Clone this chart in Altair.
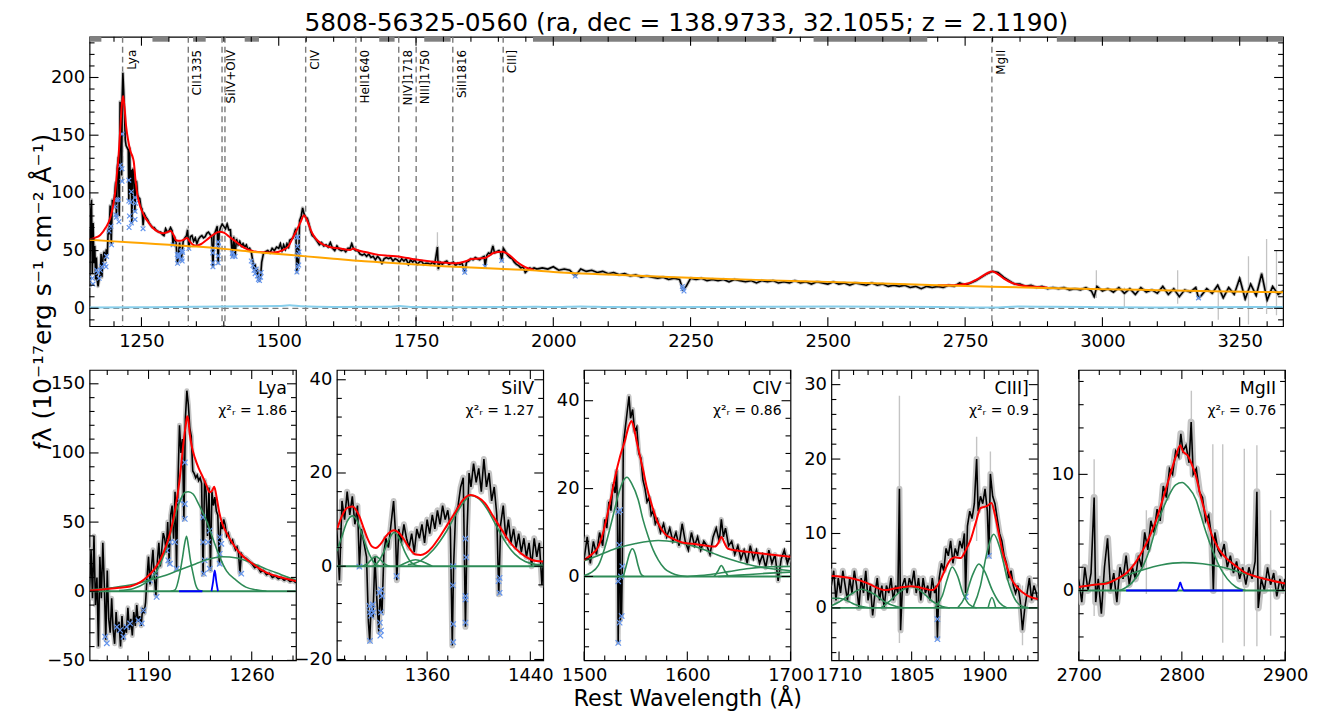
import altair as alt
import pandas as pd

FONT = "DejaVu Sans"
GRAY = "#c4c4c4"
RED = "#ff0000"
ORANGE = "#ffa500"
SKY = "#87ceeb"
GREEN = "#2e8b57"
BLUE = "#0000ff"
XBLUE = "#6495ed"
DASH = "#7a7a7a"

TITLE = "5808-56325-0560 (ra, dec = 138.9733, 32.1055; z = 2.1190)"
XLABEL = "Rest Wavelength (\u00c5)"
YLABEL = "\U0001d453\u03bb  (10\u207b\u00b9\u2077erg  s\u207b\u00b9  cm\u207b\u00b2  \u00c5\u207b\u00b9)"

# ---------------- top panel data ----------------
LINE_NAMES = ["Lya", "CII1335", "SiIV+OIV", "", "CIV", "HeII1640", "NIV]1718", "NIII]1750", "SiII1816", "CIII]", "MgII"]
LINE_WAVES = [1215.67, 1335.30, 1396.76, 1402.06, 1549.06, 1640.42, 1718.55, 1750.26, 1816.98, 1908.73, 2798.75]

CONT_WINDOWS = [(1155.5, 1177), (1270, 1300), (1344, 1367), (1438, 1464), (1683, 1711),
                (1765, 1813), (1963, 2406), (2474, 2681), (2917, 3329)]

TOP_BLACK = [
    (1155, 69), (1156, 19), (1157.5, 84), (1159, 94), (1160.5, 30), (1162, 74), (1163.5, 39), (1165, 54),
    (1166.5, 25), (1168, 44), (1169.5, 24), (1171, 19), (1173, 26), (1175, 29), (1176.5, 47), (1178, 27),
    (1180, 44), (1182, 49), (1184, 41), (1186, 51), (1188, 47), (1189.5, 69), (1191, 64), (1193, 89),
    (1195, 56), (1197, 94), (1199, 89), (1201, 97), (1203, 109), (1204.5, 79), (1206, 121), (1208, 131),
    (1209.5, 80), (1211, 179), (1212.5, 159), (1214, 115), (1215, 184), (1216.2, 204), (1217.5, 190),
    (1219, 171), (1220.5, 146), (1222, 141), (1224, 139), (1226, 137), (1227, 94), (1228.5, 139),
    (1230, 99), (1231.5, 120), (1232.5, 74), (1234, 121), (1236, 117), (1238, 84), (1239.5, 108),
    (1241, 110), (1243, 98), (1245, 96), (1247, 95), (1249, 88), (1251, 86), (1253, 72), (1255, 82),
    (1258, 79), (1261, 77), (1264, 74), (1267, 72), (1270, 70), (1273, 70), (1276, 68), (1279, 67),
    (1282, 66), (1285, 66), (1288, 64),
    (1291, 63), (1294, 69), (1297, 66), (1300, 67), (1303, 70), (1306, 67), (1307.5, 55), (1310, 62),
    (1313, 57), (1315.5, 39), (1317, 45), (1319.5, 57), (1322.5, 41), (1324, 49), (1326, 58), (1329, 61),
    (1332, 63), (1334, 68), (1336.3, 52), (1339, 62), (1342, 63), (1345, 58), (1348, 61), (1351, 56),
    (1354, 60), (1357, 62), (1360, 63), (1363, 61), (1366, 62), (1369, 65), (1372, 66), (1375, 64),
    (1378, 62), (1380.2, 36), (1382, 63), (1385, 67), (1388, 71), (1389.7, 39), (1391.5, 66), (1394, 70),
    (1397, 73), (1400, 71), (1403, 69), (1406, 73), (1409, 68), (1412, 68), (1415.5, 45), (1418, 62),
    (1420.5, 45), (1423, 60), (1426, 55), (1429, 58), (1432, 54), (1435, 56), (1438, 53), (1441, 55),
    (1444, 51), (1447, 52), (1450, 49),
    (1452, 43), (1455, 34), (1457, 38), (1459, 30), (1461, 34), (1463, 25), (1465, 24), (1467, 28),
    (1469, 40), (1472, 47), (1476, 49), (1480, 50), (1484, 48), (1488, 52), (1492, 50), (1496, 53), (1500, 52),
    (1503, 56), (1506, 50), (1509, 55), (1512, 51), (1515, 56), (1518, 53), (1520, 59), (1523, 60),
    (1526, 61), (1529, 66), (1531, 69), (1533, 31), (1534.5, 54), (1536, 37), (1538, 76), (1541, 80),
    (1543.5, 87), (1546, 82), (1549, 79), (1552, 78), (1555, 73), (1558, 67), (1561, 63), (1564, 62),
    (1567, 60), (1570, 58), (1574, 55), (1578, 57), (1582, 54), (1586, 55), (1590, 53), (1594, 57),
    (1598, 52), (1602, 50), (1606, 54), (1610, 51), (1614, 50), (1618, 51), (1622, 49), (1626, 52),
    (1630, 52), (1633, 56), (1636, 52), (1640, 50), (1644, 50), (1648, 47), (1652, 46), (1656, 47),
    (1660, 45), (1664, 47), (1668, 44), (1672, 45), (1676, 42), (1680, 45), (1684, 43), (1688, 39),
    (1692, 43), (1696, 44), (1700, 43),
    (1704, 44), (1708, 41), (1712, 43), (1716, 42), (1720, 40), (1724, 43), (1728, 41), (1732, 43),
    (1736, 38), (1740, 42), (1744, 40), (1748, 42), (1752, 38), (1756, 40), (1760, 41), (1764, 38),
    (1768, 39), (1772, 39), (1776, 38), (1780, 40), (1784, 38), (1789, 53), (1790.5, 34), (1794, 40),
    (1798, 38), (1802, 40), (1806, 41), (1810, 38), (1814, 39), (1818, 40), (1822, 37), (1826, 39),
    (1830, 38), (1834, 39), (1838.7, 31), (1842, 40), (1846, 41), (1850, 43), (1854, 42), (1858, 44),
    (1862, 43), (1866, 42), (1870, 44), (1874, 45), (1876, 37), (1879, 46), (1882, 48), (1886, 47),
    (1890, 54), (1893, 48), (1897, 49), (1901, 50), (1904, 48), (1906, 41), (1909, 52), (1913, 49),
    (1917, 46), (1921, 44), (1925, 43), (1929, 40), (1933, 38), (1937, 37), (1941, 35), (1945, 36),
    (1949, 31), (1953, 33), (1957, 35), (1961, 34), (1965, 35), (1970, 34),
    (1980, 35), (1990, 34), (2000, 36), (2010, 33), (2020, 34), (2030, 33), (2040, 28), (2050, 34),
    (2060, 32), (2070, 33), (2080, 31), (2090, 32), (2100, 30), (2110, 31), (2120, 29), (2130, 30),
    (2140, 28), (2150, 29), (2160, 27), (2170, 28), (2180, 27), (2190, 26), (2200, 27), (2210, 25),
    (2220, 26), (2230, 25), (2236, 16), (2242, 19), (2250, 26), (2260, 25), (2270, 26), (2280, 24),
    (2290, 25), (2300, 24), (2310, 25), (2320, 23), (2330, 25), (2340, 24), (2350, 23), (2360, 24),
    (2370, 22), (2380, 24), (2390, 23), (2400, 24), (2410, 22), (2420, 23), (2430, 22), (2440, 24),
    (2450, 22), (2460, 23), (2470, 21), (2480, 23), (2490, 22), (2500, 21), (2510, 23), (2520, 21),
    (2530, 22), (2540, 20), (2550, 22), (2560, 21), (2570, 20), (2580, 22), (2590, 20), (2600, 21),
    (2610, 19), (2620, 20), (2630, 19), (2640, 20), (2650, 18), (2660, 19), (2670, 17), (2680, 19),
    (2690, 18), (2700, 19), (2710, 18), (2720, 20), (2730, 19), (2740, 22), (2750, 20), (2760, 22),
    (2770, 24), (2780, 27), (2790, 30), (2800, 32), (2810, 31), (2820, 27), (2830, 24), (2840, 21),
    (2850, 21), (2860, 19), (2870, 20), (2880, 18), (2890, 19), (2900, 17), (2910, 18), (2920, 17),
    (2930, 18), (2940, 16), (2950, 17), (2960, 16), (2970, 18), (2980, 15), (2985, 10), (2990, 19),
    (3000, 15), (3010, 17), (3020, 14), (3030, 18), (3040, 13), (3050, 17), (3060, 12), (3070, 18),
    (3080, 14), (3090, 16), (3100, 13), (3110, 19), (3120, 12), (3130, 17), (3140, 10), (3150, 16),
    (3160, 14), (3170, 18), (3175, 9), (3180, 11), (3190, 17), (3200, 13), (3210, 20), (3220, 9),
    (3230, 18), (3240, 12), (3250, 26), (3260, 8), (3270, 21), (3280, 11), (3290, 30), (3300, 7),
    (3310, 19), (3320, 12), (3329, 15),
]

TOP_RED_LYA_CIII = [
    (1155, 59.5), (1165, 61), (1175, 63.5), (1185, 70), (1193, 78), (1198, 88), (1202, 100), (1205, 115),
    (1208, 130), (1211, 152), (1214, 175), (1216.5, 184), (1219, 175), (1222, 158), (1226, 145),
    (1230, 136), (1234, 131), (1236, 127), (1239, 112), (1242, 100), (1248, 88), (1255, 80), (1262, 75),
    (1270, 70), (1280, 66.5), (1290, 65), (1297, 66), (1303, 67), (1308, 64), (1313, 59), (1320, 58.5),
    (1327, 59.5), (1333, 61), (1338, 58), (1344, 55), (1350, 54.3), (1358, 55.5), (1368, 59),
    (1380, 63.5), (1392, 66.4), (1400, 65.5), (1410, 62), (1422, 57.8), (1435, 53), (1452, 49.7),
    (1470, 48.5), (1490, 48.3), (1500, 49), (1510, 51), (1518, 54), (1525, 60.6), (1533, 68),
    (1540, 75), (1546, 80.7), (1550, 78), (1555, 72), (1561, 65), (1567, 60.6), (1578, 56),
    (1591, 53.4), (1610, 52), (1630, 50.6), (1636, 51.8), (1642, 50.5), (1660, 48.5), (1682, 46.3),
    (1700, 45.5), (1718, 44.8), (1735, 43.5), (1750, 42.3), (1770, 41), (1790, 40), (1805, 39.5),
    (1818, 39), (1830, 39.5), (1842, 41), (1851, 42.8), (1862, 43), (1875, 43.5), (1883, 45.5),
    (1890, 47.7), (1899, 48.8), (1908, 49.1), (1916, 47.5), (1925, 44), (1933, 40.5), (1941.5, 37.7),
    (1953.7, 34.7), (1965, 33.3),
]
TOP_RED_MGII = [
    (2700, 20), (2720, 20), (2740, 20.5), (2755, 21.5), (2765, 23.5), (2775, 26), (2785, 29),
    (2793, 31), (2798.5, 32), (2805, 31), (2813, 28.5), (2823, 25), (2835, 22), (2850, 20),
    (2870, 18.8), (2900, 18),
]
TOP_CONT = [
    (1155.5, 59.5), (1200, 58), (1250, 56.5), (1300, 55), (1350, 53.5), (1400, 51.5), (1450, 49),
    (1500, 47), (1550, 45), (1600, 43), (1650, 41), (1700, 39.5), (1750, 38), (1800, 36.5),
    (1850, 35.3), (1900, 34.2), (1950, 33.3), (2000, 31.5), (2100, 29.2), (2200, 27.3), (2300, 25.6),
    (2400, 24.2), (2500, 22.9), (2600, 21.5), (2700, 20), (2800, 18.7), (2900, 17.6), (3000, 16.6),
    (3100, 15.7), (3200, 14.8), (3329, 13.9),
]
TOP_FE = [
    (1155.5, 0.8), (1250, 0.9), (1350, 1.3), (1450, 1.8), (1500, 2.0), (1520, 2.6), (1540, 1.7),
    (1600, 1.2), (1700, 1.4), (1720, 1.9), (1740, 1.2), (1800, 1.0), (1900, 1.1), (1970, 1.3),
    (2000, 1.1), (2050, 1.6), (2100, 1.1), (2200, 0.9), (2300, 1.2), (2400, 1.4), (2500, 1.5),
    (2600, 1.4), (2700, 1.2), (2800, 0.6), (2850, 1.6), (2900, 1.3), (3000, 1.0), (3100, 0.8),
    (3200, 1.0), (3329, 1.1),
]
TOP_MASKED = [
    (1160.6, 26), (1161.7, 21), (1168.5, 33), (1170.7, 31), (1173, 26), (1175.2, 33), (1177.5, 36),
    (1183.1, 38), (1185.4, 36), (1186.5, 45), (1191, 67), (1194.4, 71), (1195.5, 55), (1202.3, 88),
    (1203.4, 81), (1204.5, 79), (1204.5, 94), (1207.9, 94), (1209, 75), (1211.2, 124), (1214.6, 151),
    (1214.6, 121), (1214.6, 110), (1227, 111), (1227, 93), (1228.1, 80), (1227.5, 70), (1230.4, 92),
    (1231.5, 101), (1231.5, 74), (1238.3, 96), (1238.3, 84), (1239.4, 91), (1238.3, 77), (1252.9, 69),
    (1307.5, 55), (1315.7, 39), (1315.2, 46.5), (1316.5, 44.5), (1317.8, 46.8), (1318.3, 45),
    (1322.9, 49), (1324.2, 50), (1325, 48.6), (1323.4, 43), (1324.2, 41), (1336.3, 52), (1380.2, 52),
    (1379.9, 48), (1380.2, 39.5), (1380.2, 36), (1389.7, 57.5), (1390.2, 53.5), (1389.7, 45.5),
    (1389.7, 39.5), (1415.4, 47.5), (1416.2, 48.5), (1416.2, 45), (1420.5, 45), (1450, 41), (1453, 37),
    (1455, 33), (1457, 30), (1459, 34), (1461, 28), (1463, 25), (1465, 24), (1467, 27), (1468, 31),
    (1533.1, 61.5), (1534.8, 61.8), (1534.1, 53.7), (1537, 48.8), (1535.7, 46.5), (1533.1, 45.4),
    (1536.4, 37.5), (1534.4, 36), (1533.1, 31.4), (1838.7, 34), (1838.7, 31.2), (1875.6, 36.3),
    (1906, 41.4), (2040, 28), (2235, 19), (2236, 17), (2238, 15), (3175, 9),
]
TOP_ERRSPIKES = [(1789, 33, 66), (2989, 9, 33), (3040, 0, 18), (3137, 4, 33), (3211, -10, 15),
                 (3266, -14, 45), (3299, -5, 60), (3317, -6, 50)]

# ---------------- Lya panel ----------------
LYA_BLACK = [
    (1150, 0), (1151, 30), (1152, -5), (1153, 40), (1154, -10), (1155, 10), (1156, -40), (1157, 25),
    (1158, -5), (1159, 35), (1160, 5), (1161, -35), (1162, 15), (1163, -20), (1164, -30), (1165, -5),
    (1166, -28), (1167, -38), (1168, -15), (1169, -30), (1170, -22), (1171, -40), (1172, -18),
    (1173, -35), (1174, -25), (1175, -30), (1176, -12), (1177, -28), (1178, -20), (1179, -32),
    (1180, -15), (1181, -25), (1182, -10), (1183, -22), (1184, -18), (1185, -25), (1186, -12),
    (1187, -16), (1188, -8), (1189, 10), (1190, 25), (1191, 5), (1192, 18), (1193, 30), (1194, 10),
    (1195, -3), (1196, 22), (1197, 35), (1198, 18), (1199, 30), (1200, 42), (1201, 38), (1202, 28),
    (1203, 50), (1204, 20), (1205, 55), (1206, 62), (1207, 38), (1208, 72), (1209, 16), (1210, 80),
    (1211, 120), (1212, 100), (1213, 110), (1214, 52), (1215, 125), (1216, 145), (1217, 135),
    (1218, 118), (1219, 112), (1220, 87), (1221, 85), (1222, 82), (1223, 84), (1224, 80), (1225, 82),
    (1226, 78), (1227, 12), (1228, 80), (1229, 72), (1230, 40), (1231, 75), (1232, 15), (1233, 72),
    (1234, 62), (1235, 68), (1236, 58), (1237, 55), (1238, 20), (1239, 50), (1240, 45), (1241, 52),
    (1242, 48), (1243, 40), (1244, 42), (1245, 38), (1246, 35), (1247, 37), (1248, 33), (1249, 30),
    (1250, 32), (1251, 28), (1252, 13), (1253, 27), (1254, 25), (1256, 24), (1258, 22), (1260, 20),
    (1262, 17), (1264, 18), (1266, 14), (1268, 15), (1270, 12), (1272, 13), (1274, 10), (1276, 11),
    (1278, 9), (1280, 10), (1282, 8), (1284, 9), (1286, 7), (1288, 8), (1290, 6),
]
LYA_RED = [
    (1150, 0.5), (1160, 1.5), (1170, 2.5), (1177.5, 3.5), (1185, 7), (1189, 10.3), (1194, 16),
    (1198, 23), (1202, 33), (1204.5, 41.5), (1207, 53), (1209, 65.5), (1211, 80), (1212.4, 94),
    (1214, 110), (1215.3, 120.6), (1216.2, 126.6), (1217, 124), (1218, 113.4), (1219.5, 104),
    (1221.4, 96.6), (1224, 89), (1227, 82.2), (1229.5, 76), (1231.5, 71.5), (1233, 72.5),
    (1234.5, 75.5), (1235.5, 72), (1236.5, 66), (1238, 57), (1240, 49), (1243, 42), (1247.2, 34.3),
    (1252, 27.5), (1256, 23.5), (1260.7, 19.9), (1265, 16.5), (1270, 13.5), (1278.8, 10.3),
    (1284, 8.8), (1290, 7.4),
]
LYA_GREEN = [
    [(1150, 1), (1165, 2.5), (1180, 5), (1190, 8), (1200, 11), (1210, 15), (1220, 19), (1230, 23),
     (1240, 25), (1250, 24), (1260, 20.5), (1270, 16), (1280, 12), (1290, 8)],
    [(1170, 0.5), (1180, 2), (1188, 6), (1193, 10.3), (1198, 20), (1202.3, 31.9), (1206, 46),
     (1209, 58.3), (1212, 67), (1214.6, 71.4), (1217, 72), (1220.2, 70.3), (1224, 63), (1229.3, 51),
     (1234, 37), (1238.3, 24.7), (1243, 14.5), (1249.5, 7.9), (1256, 3), (1263, 1), (1270, 0)],
    [(1205, 0), (1208, 1), (1211.2, 12.7), (1213, 24), (1214.6, 35), (1215.8, 39.8), (1217, 33),
     (1218.5, 22), (1220.2, 12.7), (1222, 4.5), (1224.5, 0.5), (1227, 0)],
]
LYA_BLUE = [
    [(1210.7, 0), (1226.5, 0)],
    [(1232.7, 0), (1233.8, 7), (1234.9, 15), (1236, 7), (1237.1, 0)],
]
LYA_MASKED = [
    (1160.6, -32.9), (1161.7, -37.6), (1168.5, -25.7), (1170.7, -28.1), (1173, -32.9), (1175.2, -25.7),
    (1177.5, -23.3), (1183.1, -21), (1186.5, -13.8), (1185.4, -23.3), (1191, 7.9), (1194.4, 12.7),
    (1195.5, -4.1), (1202.3, 29.5), (1203.4, 22.3), (1204.5, 19.9), (1204.5, 35.5), (1207.9, 35.5),
    (1209, 16.3), (1211.2, 65.5), (1214.6, 93.1), (1214.6, 63.1), (1214.6, 52.3), (1227, 53.5),
    (1227, 35.5), (1228.1, 22.3), (1227.5, 12.7), (1230.4, 35.5), (1231.5, 43.9), (1231.5, 16.3),
    (1238.3, 39.1), (1238.3, 27.1), (1239.4, 34.3), (1238.3, 19.9), (1252.9, 12.7),
]

# ---------------- SiIV panel ----------------
SIIV_BLACK = [
    (1290, 8), (1292, -3), (1294, 14), (1296, 10), (1298, 16), (1300, 11), (1302, 15), (1304, 9),
    (1306, 13), (1307.5, 0), (1309, 8), (1311, 5), (1313, 2), (1314.5, -12), (1315.5, -16),
    (1316.5, -9), (1318, -11), (1319.5, 2), (1321, -7), (1322.5, -14), (1323.5, -6), (1325, -10),
    (1326.5, 3), (1328, 6), (1330, 4), (1332, 9), (1334, 14), (1335.5, 7), (1336.5, -3), (1338, 8),
    (1340, 5), (1342, 9), (1344, 6), (1346, 4), (1348, 7), (1350, 3), (1352, 8), (1354, 6), (1356, 9),
    (1358, 5), (1360, 10), (1362, 7), (1364, 11), (1366, 8), (1368, 12), (1370, 9), (1372, 13),
    (1374, 10), (1376, 12), (1378, 8), (1379.5, -17), (1380.5, 0), (1382, 11), (1384, 13), (1386, 17),
    (1388, 19), (1389.7, -13), (1391, 8), (1392.5, 20), (1394, 17), (1396, 22), (1398, 18), (1400, 21),
    (1402, 16), (1404, 23), (1406, 17), (1408, 20), (1410, 14), (1412, 17), (1414, 11), (1415.5, -6),
    (1417, 9), (1419, 13), (1421, 6), (1423, 10), (1425, 5), (1427, 8), (1429, 4), (1431, 7), (1433, 3),
    (1435, 6), (1437, 2), (1439, 5), (1441, 0), (1443, 6), (1445, 2), (1447, 5), (1449, -4), (1450, 1),
]
SIIV_RED = [
    (1290, 7.8), (1294, 10.8), (1298, 12.5), (1302.3, 12.8), (1305, 12), (1307.5, 10.7), (1311, 8),
    (1314, 5.8), (1317, 4.3), (1320.3, 3.9), (1324, 4.8), (1328, 6.4), (1331, 7.3), (1334.5, 7.7),
    (1338, 7.2), (1341, 6.2), (1345, 4.4), (1348, 3.2), (1351.2, 2.5), (1355, 2.4), (1359, 2.8),
    (1364, 4.1), (1369, 6), (1375, 8.6), (1382, 11.7), (1388, 14.3), (1393.5, 15.3), (1399, 14.8),
    (1405, 13.5), (1411, 10.8), (1417.9, 7.8), (1424, 5.2), (1430.8, 3.2), (1436, 2.1), (1441, 1.4),
    (1445, 1.1), (1450, 1),
]
SIIV_GREEN = [
    [(1290, 3.2), (1294, 6.4), (1298, 9.6), (1302, 10.8), (1306, 9.6), (1309, 7.3), (1312.7, 4.3),
     (1316, 2.1), (1319, 0.7), (1323, 0.1), (1327, 0)],
    [(1310, 0), (1314, 0.6), (1317, 1.5), (1320.3, 2.1), (1323.5, 1.5), (1327, 0.5), (1331, 0)],
    [(1318, 0), (1322, 0.9), (1326, 2.8), (1330, 5.5), (1334.5, 7.3), (1339, 5.6), (1343, 2.9),
     (1347, 1), (1351, 0.2), (1355, 0)],
    [(1338, 0), (1344, 0.8), (1351, 1.4), (1358, 0.8), (1364, 0)],
    [(1345, 0.3), (1355, 1.2), (1365, 3.6), (1375, 7.5), (1383, 11.5), (1389, 14), (1394, 15.2),
     (1400, 14.5), (1406, 12.5), (1413, 9), (1420, 5.5), (1428, 2.6), (1436, 1), (1444, 0.4), (1450, 0.2)],
]
SIIV_MASKED = [
    (1307.5, -0.1), (1315.7, -16), (1315.2, -8.5), (1315.7, -9.9), (1316.5, -10.6), (1317.2, -9.2),
    (1318.3, -9.9), (1317.8, -8.2), (1322.9, -5.7), (1324.2, -5), (1325, -6.4), (1324.2, -9.9),
    (1323.4, -12.1), (1324.2, -13.8), (1323.7, -14.9), (1336.3, -2.1), (1380.2, 0), (1379.9, -4.1),
    (1380.2, -12.4), (1380.2, -16.3), (1389.7, 5.9), (1390.2, 1.9), (1389.7, -6.4), (1389.7, -7.1),
    (1389.7, -12.1), (1415.4, -3.2), (1416.2, -2.5), (1416.2, -5.7),
]

# ---------------- CIV panel ----------------
CIV_BLACK = [
    (1500, 4), (1503, 9), (1506, 3), (1509, 8), (1512, 5), (1515, 10), (1518, 7), (1520, 13),
    (1522, 11), (1524, 17), (1526, 15), (1528, 21), (1530, 19), (1531.5, 24), (1532.3, 15),
    (1533, -15), (1533.6, -1), (1534.1, 7), (1534.6, 15), (1535.2, -10), (1535.7, 0), (1536.3, -9),
    (1537, 2.3), (1538, 30), (1540, 34), (1542, 38), (1543.5, 41), (1545, 36), (1547, 38), (1549, 33),
    (1551, 34), (1553, 28), (1555, 27), (1557, 22), (1559, 20), (1561, 17), (1563, 18), (1565, 14),
    (1567, 15), (1569, 12), (1571, 13), (1574, 10), (1577, 12), (1580, 9), (1583, 11), (1586, 8),
    (1589, 10), (1592, 7), (1595, 12), (1598, 8), (1601, 6), (1604, 10), (1607, 7), (1610, 9),
    (1613, 6), (1616, 8), (1619, 7), (1622, 5), (1625, 9), (1628, 11), (1631, 8), (1633, 13),
    (1635, 9), (1637, 11), (1640, 7), (1643, 8), (1646, 5), (1649, 7), (1652, 4), (1655, 6),
    (1658, 3), (1661, 7), (1664, 4), (1667, 6), (1670, 3), (1673, 5), (1676, 2), (1679, 6),
    (1682, 3), (1685, 5), (1688, -1), (1691, 4), (1694, 6), (1697, 3), (1700, 5),
]
CIV_RED = [
    (1500, 3.8), (1506, 4.8), (1513.8, 6.8), (1519, 10.5), (1523.5, 15.1), (1527, 19), (1530, 22.6),
    (1535, 27.5), (1539.6, 30.9), (1543, 34), (1546, 35.4), (1548.5, 33.5), (1550.8, 30.9),
    (1554, 27.5), (1557.3, 24.1), (1561, 20), (1565.3, 16.5), (1571, 12.5), (1578.3, 9.7),
    (1586, 8.6), (1594.3, 7.8), (1610, 7.3), (1626.6, 6.8), (1630, 7.6), (1633, 9), (1636, 7.6),
    (1639.4, 6.3), (1648, 5.9), (1658.7, 5.6), (1680, 5), (1700, 4.5),
]
CIV_GREEN = [
    [(1500, 0.2), (1506, 0.8), (1513.8, 2.5), (1520, 6.5), (1526.7, 12.5), (1533, 18.5), (1538, 21.8),
     (1541.5, 22.6), (1546, 21.2), (1552.5, 17.4), (1557, 13), (1562.1, 9.1), (1567, 6), (1571.8, 3.8),
     (1578, 1.8), (1584.6, 0.8), (1592, 0.2), (1600, 0)],
    [(1538, 0), (1541.2, 2.8), (1544, 5.2), (1546.7, 6.3), (1549.5, 5.2), (1552, 2.8), (1555, 0.6), (1558, 0)],
    [(1500, 3.6), (1513.8, 4.8), (1530, 6.3), (1550, 7.5), (1571.8, 8.2), (1590, 7.8), (1610.4, 6.6),
     (1625, 5.3), (1636.2, 4.3), (1650, 3.3), (1665.2, 2.4), (1680, 1.8), (1700, 1.3)],
    [(1626, 0), (1629.5, 1.2), (1633, 2.5), (1636.5, 1.2), (1640, 0)],
    [(1600, 0), (1620, 0.4), (1640, 1.1), (1660, 1.8), (1680, 2.2), (1700, 2.3)],
    [(1630, 0), (1650, 0.3), (1675, 0.7), (1700, 1.0)],
]
CIV_MASKED = [
    (1533.1, 14.7), (1534.8, 15.1), (1534.1, 7.2), (1537, 2.3), (1535.7, 0), (1533.1, -1.1),
    (1536.4, -9.0), (1534.4, -10.5), (1533.1, -15.1),
]

# ---------------- CIII] panel ----------------
CIII_BLACK = [
    (1700, 3), (1703, 5), (1706, 1), (1709, 4), (1712, 2), (1715, 5), (1718, 3), (1721, 1), (1724, 4),
    (1727, 2), (1730, 5), (1733, 3), (1736, 0), (1739, 4), (1742, 2), (1745, 5), (1748, 1), (1751, 3),
    (1754, -1), (1757, 2), (1760, 4), (1763, 1), (1766, 3), (1769, 0), (1772, 3), (1775, 2), (1778, 4),
    (1781, 1), (1784, 3), (1787, 2), (1789, 16), (1790.5, -3), (1793, 3), (1796, 4), (1799, 2),
    (1802, 4), (1805, 3), (1808, 5), (1811, 2), (1814, 4), (1817, 1), (1820, 4), (1823, 2), (1826, 3),
    (1829, 1), (1832, 4), (1835, 2), (1837, 3), (1838.7, -4), (1841, 4), (1844, 6), (1847, 5),
    (1850, 8), (1853, 7), (1856, 9), (1859, 6), (1862, 8), (1865, 7), (1868, 9), (1871, 8), (1874, 10),
    (1875.6, 2), (1878, 11), (1881, 13), (1884, 12), (1887, 14), (1890, 20), (1892, 13), (1895, 15),
    (1898, 14), (1901, 16), (1904, 13), (1906, 7), (1908, 18), (1911, 15), (1914, 14), (1917, 12),
    (1920, 10), (1923, 9), (1926, 7), (1929, 6), (1932, 4), (1935, 5), (1938, 3), (1941, 2), (1944, 3),
    (1947, 1), (1950, -3), (1953, 0), (1956, 2), (1959, 4), (1962, 1), (1965, 3), (1968, 2), (1970, 1),
]
CIII_RED = [
    (1700, 4.3), (1713, 4.2), (1726, 4.0), (1737, 3.7), (1747.7, 3.3), (1758, 2.8), (1769.4, 2.4),
    (1782.4, 2.6), (1794, 2.8), (1804, 2.9), (1813, 2.8), (1821.5, 2.6), (1832.2, 2.4), (1838, 2.9),
    (1843, 3.8), (1849, 5.2), (1856, 6.5), (1862, 6.8), (1869, 6.7), (1876, 7.8), (1882, 9.1),
    (1889, 11.5), (1895, 13.4), (1903.8, 13.7), (1909.4, 14.1), (1914, 12.5), (1919, 10),
    (1924, 7.5), (1929.8, 5.5), (1936, 3.8), (1942.8, 2.8), (1955.8, 1.7), (1970, 1.2),
]
CIII_GREEN = [
    [(1700, 1.3), (1710, 1.3), (1720, 1.0), (1730, 0.5), (1745, 0.1), (1755, 0)],
    [(1700, 0.3), (1710, 0.8), (1725, 1.8), (1739, 2.5), (1755, 1.9), (1770, 0.8), (1785, 0.2), (1795, 0)],
    [(1765, 0), (1775, 0.8), (1790, 2.2), (1804, 2.9), (1818, 2.2), (1832, 0.9), (1845, 0.2), (1855, 0)],
    [(1835, 0), (1845, 1.6), (1852, 4), (1858, 5.5), (1865, 4.3), (1872, 2), (1880, 0.5), (1890, 0)],
    [(1865, 0), (1875, 1.5), (1885, 4.5), (1893, 5.9), (1901, 4.8), (1910, 2.5), (1920, 0.7), (1930, 0)],
    [(1885, 0), (1895, 3), (1903, 7.2), (1912.5, 9.9), (1920, 8.2), (1930, 4), (1940, 1.2), (1950, 0.2), (1960, 0)],
    [(1905, 0), (1910, 1.4), (1915, 0)],
]
CIII_MASKED = [(1838.7, -1.5), (1838.7, -4.2), (1875.6, 1.5), (1906, 7.0)]
CIII_ERRSPIKES = [(1789, -4.7, 28.5), (1890, 9, 23), (1908, 8, 21), (1950, -5, 3)]

# ---------------- MgII panel ----------------
MGII_BLACK = [
    (2700, 1), (2703, -1), (2706, 2), (2709, 0), (2712, 1.5), (2715, 8), (2716.5, -1), (2719, 1),
    (2722, -2), (2725, 2), (2728, 4.5), (2731, 0), (2734, 1.5), (2737, -1), (2740, 2), (2743, 1),
    (2746, 3), (2749, 0.5), (2752, 2), (2755, 1), (2758, 3), (2761, 2), (2764, 5), (2767, 3.5),
    (2770, 6), (2773, 5), (2776, 7), (2779, 6), (2782, 9), (2785, 8), (2788, 10.5), (2791, 10),
    (2794, 12), (2797, 11.5), (2799, 13.5), (2801, 12), (2804, 12.5), (2807, 11), (2809, 14.5),
    (2811, 10), (2814, 10.5), (2817, 8.5), (2820, 8), (2823, 6), (2826, 6.5), (2829, 4.5),
    (2830.5, 0), (2832, 5), (2835, 3.5), (2838, 3), (2841, 4), (2844, 2), (2847, 3), (2850, 1.5),
    (2853, 2.5), (2856, 1), (2859, 2), (2862, 0.5), (2865, 2), (2868, 1), (2871, 2.5), (2872.7, 8.5),
    (2874, -1.5), (2877, 1), (2880, 0), (2883, 2), (2886, 0.5), (2889, 1.5), (2892, -0.5), (2895, 1),
    (2898, 0), (2900, 1),
]
MGII_RED = [
    (2700, 0.3), (2715, 0.5), (2727, 0.6), (2737, 1.0), (2746.3, 1.5), (2755, 2.4), (2762.4, 3.5),
    (2769, 4.7), (2775.3, 6.1), (2782, 8), (2788.1, 9.8), (2794, 11.5), (2798.4, 12.5), (2801, 12),
    (2805.8, 11.6), (2809, 11), (2813.8, 9.8), (2818, 8.2), (2823.5, 6.4), (2829, 4.8), (2836.3, 3.5),
    (2844, 2.7), (2852.4, 2.1), (2860, 1.6), (2871.7, 1.2), (2885, 0.9), (2900, 0.6),
]
MGII_GREEN = [
    [(2740, 0), (2752, 0.7), (2762.4, 2.1), (2769, 3.6), (2775.3, 5.5), (2782, 7.1), (2788.1, 8.3),
     (2794, 9.1), (2800.3, 9.3), (2806, 8.9), (2813.8, 7.8), (2818, 6.6), (2823.5, 5), (2830, 3.4),
     (2836.3, 2.1), (2844, 1), (2852.4, 0.3), (2862, 0)],
    [(2700, 0.3), (2727, 0.7), (2759.2, 1.7), (2780, 2.2), (2800.9, 2.4), (2820, 2.3), (2839.5, 2.0),
     (2855, 1.6), (2871.7, 1.2), (2900, 0.6)],
]
MGII_BLUE = [[(2746, 0), (2795, 0), (2797, 0.3), (2798.4, 0.7), (2800, 0.3), (2802, 0), (2859, 0)]]
MGII_ERRSPIKES = [(2715, -2.2, 11.3), (2765.6, -0.3, 6.9), (2809.2, 11.2, 17.2), (2830, -0.2, 12.6),
                  (2839.6, -4.5, 12.6), (2860.5, -4.8, 12.2), (2872.7, -4.8, 12.5), (2886, -3.9, 6.9)]

PANEL_NAMES = ["Lya", "SiIV", "CIV", "CIII]", "MgII"]
CHI2 = ["1.86", "1.27", "0.86", "0.9", "0.76"]


# ---------------- helpers ----------------
def D(pairs, names=("w", "f")):
    return pd.DataFrame([list(p) for p in pairs], columns=list(names))


def comps(groups):
    frames = []
    for i, g in enumerate(groups):
        d = D(g)
        d["c"] = i
        frames.append(d)
    return pd.concat(frames, ignore_index=True)


def make_axes(P):
    xs = alt.Scale(domain=P["xdom"], nice=False, zero=False)
    ys = alt.Scale(domain=P["ydom"], nice=False, zero=False)
    xkw = dict(values=P["xmaj"], format="d", title=P.get("xtitle", ""), labelPadding=6)
    if "xtitle" in P:
        xkw.update(titleFontSize=22.5, titlePadding=3)
    ykw = dict(values=P["ymaj"], format="d", title=P.get("ytitle", ""), labelPadding=5)
    if "ytitle" in P:
        ykw.update(titleFontSize=25, titleX=-47, titleY=-79, titleAngle=270,
                   titleBaseline="middle", titleAlign="center")
    xa = alt.Axis(**xkw)
    ya = alt.Axis(**ykw)

    def X(f="w"):
        return alt.X(f"{f}:Q", scale=xs, axis=xa)

    def Y(f="f"):
        return alt.Y(f"{f}:Q", scale=ys, axis=ya)

    return X, Y


def tick_layers(P, X, Y):
    W, H = P["W"], P["H"]
    out = []
    for vals, L in ((P["xmaj"], 9), (P["xmin"], 5)):
        m = alt.Chart(pd.DataFrame({"t": vals})).mark_rule(color="black", strokeWidth=1.1)
        out.append(m.encode(x=X("t"), y=alt.value(H), y2=alt.value(H - L)))
        out.append(m.encode(x=X("t"), y=alt.value(0), y2=alt.value(L)))
    for vals, L in ((P["ymaj"], 9), (P["ymin"], 5)):
        m = alt.Chart(pd.DataFrame({"t": vals})).mark_rule(color="black", strokeWidth=1.1)
        out.append(m.encode(y=Y("t"), x=alt.value(0), x2=alt.value(L)))
        out.append(m.encode(y=Y("t"), x=alt.value(W), x2=alt.value(W - L)))
    return out


XSHAPE = "M-1,-1L1,1M-1,1L1,-1"


def masked_layer(pairs, X, Y, size=30):
    return alt.Chart(D(pairs)).mark_point(shape=XSHAPE, size=size, filled=False, strokeWidth=1.2,
                                          color=XBLUE, opacity=1, clip=True).encode(x=X(), y=Y())


def minor(start, stop, step, majors):
    vals = []
    v = start
    while v <= stop + 1e-9:
        if all(abs(v - m) > 1e-6 for m in majors):
            vals.append(round(v, 4))
        v += step
    return vals


# ---------------- top panel ----------------
TOPP = dict(xdom=[1155.5, 3329], ydom=[-15.5, 235.3], W=1199.9, H=291,
            xmaj=[1250, 1500, 1750, 2000, 2250, 2500, 2750, 3000, 3250],
            ymaj=[0, 50, 100, 150, 200])
TOPP["xmin"] = minor(1200, 3300, 50, TOPP["xmaj"])
TOPP["ymin"] = minor(-10, 230, 10, TOPP["ymaj"])
Xt, Yt = make_axes(TOPP)

win = pd.DataFrame(CONT_WINDOWS, columns=["w0", "w1"])
win["b0"] = 231.0
win["b1"] = 235.3
lines_df = pd.DataFrame({"w": LINE_WAVES, "name": LINE_NAMES})
lab_df = lines_df[lines_df["name"] != ""].copy()
lab_df["lx"] = lab_df["w"] + 16.3
lab_df["ly"] = 224.0
red_top = pd.concat([D(TOP_RED_LYA_CIII).assign(seg="a"), D(TOP_RED_MGII).assign(seg="b")], ignore_index=True)
zero_df = pd.DataFrame({"f": [0.0]})

top_layers = [
    alt.Chart(win).mark_rect(color="#808080").encode(x=Xt("w0"), x2="w1", y=Yt("b0"), y2="b1"),
    alt.Chart(lines_df).mark_rule(color=DASH, strokeDash=[6, 4], strokeWidth=1.4).encode(x=Xt("w")),
    alt.Chart(lab_df).mark_text(angle=270, align="right", baseline="middle", fontSize=12, font=FONT,
                                color="black").encode(x=Xt("lx"), y=Yt("ly"), text="name:N"),
    alt.Chart(D(TOP_ERRSPIKES, ("w", "lo", "hi"))).mark_rule(color=GRAY, strokeWidth=1.3, clip=True).encode(
        x=Xt("w"), y=Yt("lo"), y2="hi"),
    alt.Chart(D(TOP_BLACK)).mark_line(color=GRAY, strokeWidth=3.5, strokeJoin="round", clip=True).encode(x=Xt(), y=Yt()),
    alt.Chart(D(TOP_BLACK)).mark_line(color="black", strokeWidth=1.6, clip=True).encode(x=Xt(), y=Yt()),
    masked_layer(TOP_MASKED, Xt, Yt, size=22),
    alt.Chart(zero_df).mark_rule(color=DASH, strokeDash=[6, 4], strokeWidth=1.2).encode(y=Yt("f")),
    alt.Chart(D(TOP_FE)).mark_line(color=SKY, strokeWidth=2, interpolate="monotone", clip=True).encode(x=Xt(), y=Yt()),
    alt.Chart(red_top).mark_line(color=RED, strokeWidth=2, interpolate="monotone", clip=True).encode(
        x=Xt(), y=Yt(), detail="seg:N"),
    alt.Chart(D(TOP_CONT)).mark_line(color=ORANGE, strokeWidth=2, interpolate="monotone", clip=True).encode(x=Xt(), y=Yt()),
] + tick_layers(TOPP, Xt, Yt)
top = alt.layer(*top_layers).properties(
    width=TOPP["W"], height=TOPP["H"],
    title=alt.TitleParams(TITLE, fontSize=25, font=FONT, fontWeight="normal", anchor="middle",
                          frame="group", offset=0, color="black"),
)

# ---------------- bottom panels ----------------
PW, PH = 207.5, 292
PANELS = [
    dict(xdom=[1150, 1290], ydom=[-50, 160], xmaj=[1190, 1260], ymaj=[-50, 0, 50, 100, 150],
         xstep=14, ystep=10, ytitle=YLABEL,
         black=LYA_BLACK, red=LYA_RED, green=LYA_GREEN, blue=LYA_BLUE, masked=LYA_MASKED, err=None, gw=5),
    dict(xdom=[1290, 1450], ydom=[-20.2, 42.1], xmaj=[1360, 1440], ymaj=[-20, 0, 20, 40],
         xstep=16, ystep=4,
         black=SIIV_BLACK, red=SIIV_RED, green=SIIV_GREEN, blue=None, masked=SIIV_MASKED, err=None, gw=6),
    dict(xdom=[1500, 1700], ydom=[-19.1, 47.0], xmaj=[1500, 1600, 1700], ymaj=[0, 20, 40],
         xstep=20, ystep=4, xtitle=XLABEL,
         black=CIV_BLACK, red=CIV_RED, green=CIV_GREEN, blue=None, masked=CIV_MASKED, err=None, gw=5),
    dict(xdom=[1700, 1970], ydom=[-7.05, 31.97], xmaj=[1710, 1805, 1900], ymaj=[0, 10, 20, 30],
         xstep=19, ystep=2,
         black=CIII_BLACK, red=CIII_RED, green=CIII_GREEN, blue=None, masked=CIII_MASKED, err=CIII_ERRSPIKES, gw=6),
    dict(xdom=[2700, 2900], ydom=[-6.02, 18.99], xmaj=[2700, 2800, 2900], ymaj=[0, 10],
         xstep=20, ystep=2,
         black=MGII_BLACK, red=MGII_RED, green=MGII_GREEN, blue=MGII_BLUE, masked=None, err=MGII_ERRSPIKES, gw=7),
]

panels = []
for i, P in enumerate(PANELS):
    P["W"], P["H"] = PW, PH
    x0 = P["xmaj"][0] - P["xstep"] * 10
    P["xmin"] = [v for v in minor(x0, P["xdom"][1], P["xstep"], P["xmaj"]) if P["xdom"][0] < v < P["xdom"][1]]
    y0 = P["ymaj"][0] - P["ystep"] * 20
    P["ymin"] = [v for v in minor(y0, P["ydom"][1], P["ystep"], P["ymaj"]) if P["ydom"][0] < v < P["ydom"][1]]
    X, Y = make_axes(P)
    L = []
    if P["err"]:
        L.append(alt.Chart(D(P["err"], ("w", "lo", "hi"))).mark_rule(color=GRAY, strokeWidth=1.4, clip=True).encode(
            x=X("w"), y=Y("lo"), y2="hi"))
    L.append(alt.Chart(D(P["black"])).mark_line(color=GRAY, strokeWidth=P["gw"], strokeJoin="round", clip=True).encode(x=X(), y=Y()))
    L.append(alt.Chart(D(P["black"])).mark_line(color="black", strokeWidth=1.6, clip=True).encode(x=X(), y=Y()))
    if P["masked"]:
        L.append(masked_layer(P["masked"], X, Y))
    L.append(alt.Chart(zero_df).mark_rule(color=GREEN, strokeWidth=1.8).encode(y=Y("f")))
    L.append(alt.Chart(comps(P["green"])).mark_line(color=GREEN, strokeWidth=1.6, interpolate="monotone", clip=True).encode(
        x=X(), y=Y(), detail="c:N"))
    if P["blue"]:
        L.append(alt.Chart(comps(P["blue"])).mark_line(color=BLUE, strokeWidth=1.8, interpolate="monotone", clip=True).encode(
            x=X(), y=Y(), detail="c:N"))
    L.append(alt.Chart(D(P["red"])).mark_line(color=RED, strokeWidth=2, interpolate="monotone", clip=True).encode(x=X(), y=Y()))
    L.append(alt.Chart(pd.DataFrame({"s": [PANEL_NAMES[i]]})).mark_text(
        align="right", baseline="alphabetic", fontSize=17.5, font=FONT, color="black").encode(
        x=alt.value(PW - 9), y=alt.value(24), text="s:N"))
    L.append(alt.Chart(pd.DataFrame({"s": ["\u03c7\u00b2\u1d63 = " + CHI2[i]]})).mark_text(
        align="right", baseline="alphabetic", fontSize=14, font=FONT, color="black").encode(
        x=alt.value(PW - 9), y=alt.value(45), text="s:N"))
    L += tick_layers(P, X, Y)
    panels.append(alt.layer(*L).properties(width=PW, height=PH))

bottom = alt.hconcat(*panels, spacing=40.6, bounds="flush")

chart = alt.vconcat(top, bottom, spacing=44, bounds="flush").properties(
    padding={"left": 22, "top": 0, "right": 5, "bottom": 5},
).configure_view(stroke="black", strokeWidth=1.2).configure_axis(
    grid=False, ticks=False, tickSize=0, domain=False, labelFont=FONT, labelFontSize=18,
    labelColor="black", labelFlush=False, labelOverlap=False, titleFont=FONT,
    titleFontWeight="normal", titleColor="black",
)

chart.save("out.html", embed_options={"renderer": "svg", "actions": False})
